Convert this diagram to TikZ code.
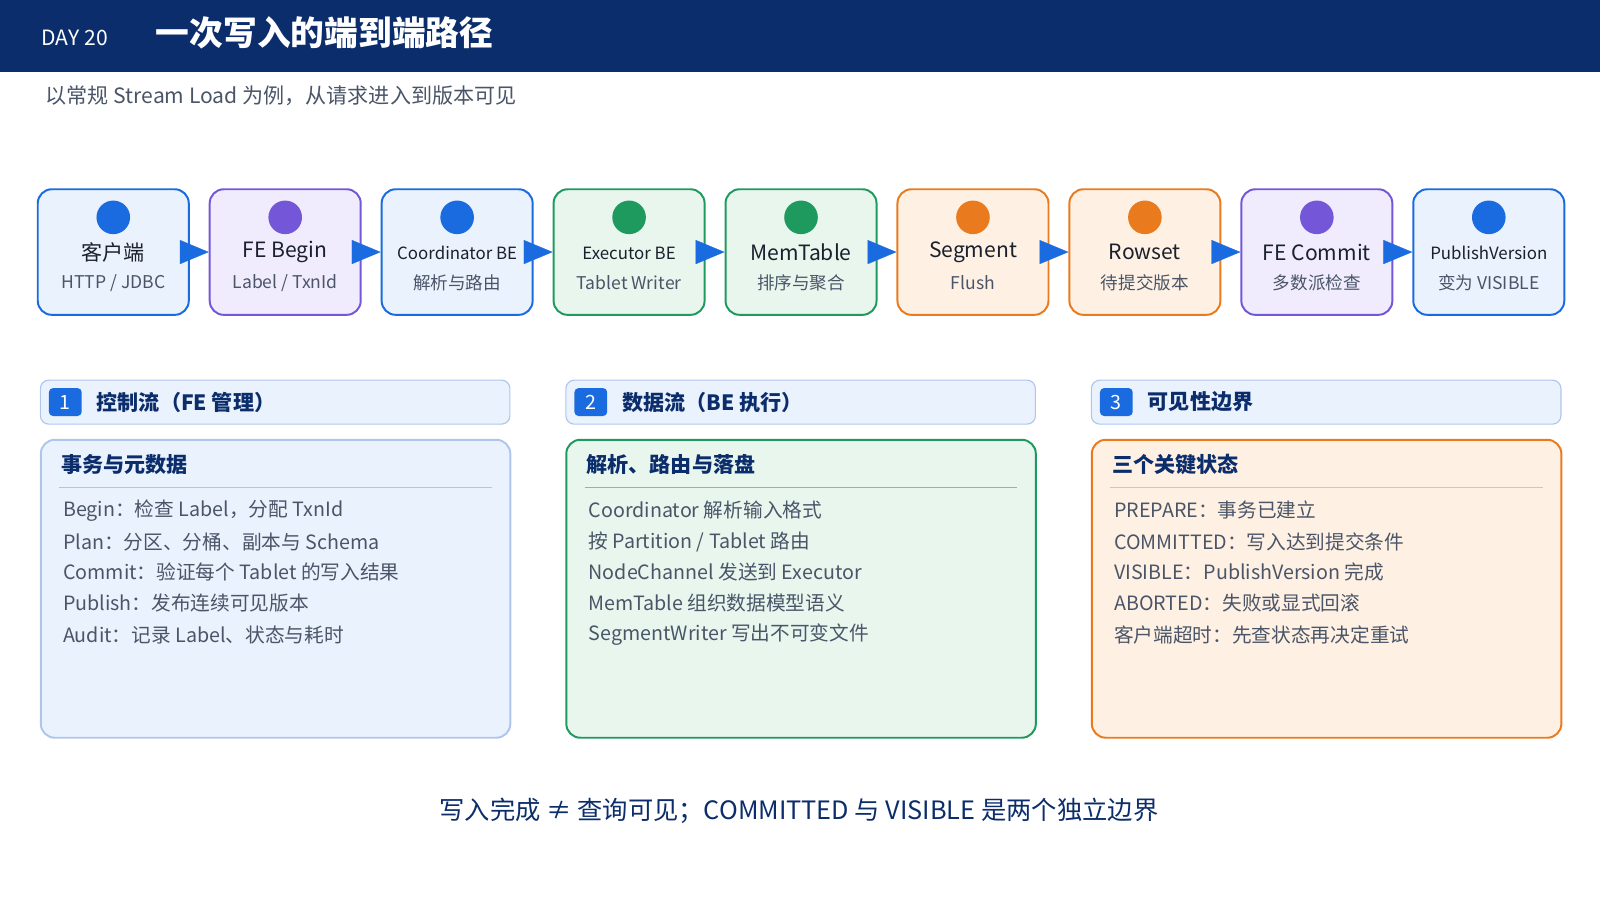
\documentclass[tikz,border=0pt]{standalone}
\usepackage{fontspec}
\setmainfont{Noto Sans CJK SC}
\usepackage{tikz}
\usetikzlibrary{positioning}
\usetikzlibrary{arrows.meta}
\definecolor{navy}{HTML}{0B2D6B}
\definecolor{greytext}{HTML}{4A5568}
\definecolor{darktext}{HTML}{1A202C}
\definecolor{cblue}{HTML}{1A6BE0}
\definecolor{fblue}{HTML}{EAF2FD}
\definecolor{cpurple}{HTML}{7357D8}
\definecolor{fpurple}{HTML}{F0ECFD}
\definecolor{cgreen}{HTML}{1F9A5F}
\definecolor{fgreen}{HTML}{E8F6EE}
\definecolor{corange}{HTML}{EA7A1E}
\definecolor{forange}{HTML}{FEF1E4}
\definecolor{lblue}{HTML}{AFC6EC}
\tikzset {
  % step box of the pipeline
  step/.style={draw=c#1, fill=f#1, line width=1.4pt, rounded corners=10pt,
    minimum width=3.776cm, minimum height=3.14cm},
  dot/.style={circle, fill=c#1, minimum size=0.84cm, inner sep=0pt},
  stitle/.style={text=darktext, font=\fontsize{15}{16}\selectfont},
  ssmall/.style={text=darktext, font=\fontsize{12}{14}\selectfont},
  ssub/.style={text=greytext, font=\fontsize{12.5}{14}\selectfont},
  flow/.style={-{Triangle[length=0.72cm,width=0.6cm]}, cblue, line width=0.2pt},
  % section headers and panels
  bar/.style={draw=lblue, fill=fblue, line width=0.8pt, rounded corners=6pt,
    minimum width=11.74cm, minimum height=1.1cm, anchor=north west},
  badge/.style={fill=cblue, rounded corners=3pt, minimum width=0.82cm,
    minimum height=0.7cm, text=white, font=\fontsize{14}{16}\selectfont},
  bartext/.style={anchor=west, text=navy, font=\bfseries\fontsize{15}{16}\selectfont},
  panel/.style={rounded corners=10pt, line width=1.4pt,
    minimum width=11.74cm, minimum height=7.45cm, anchor=north west},
  ptitle/.style={anchor=west, text=navy, font=\bfseries\fontsize{15}{16}\selectfont},
  item/.style={anchor=west, text=greytext, font=\fontsize{14}{16}\selectfont},
}
\begin{document}
\begin{tikzpicture}[x=0.02551cm, y=-0.02551cm]
  \useasboundingbox (0,0) rectangle (1568,882);
  % header
  \fill[navy] (0,0) rectangle (1568,71);
  \node[anchor=west, text=white, font=\fontsize{15}{16}\selectfont] (day) at (36,37) {DAY 20};
  \node[anchor=west, text=white, font=\bfseries\fontsize{24}{28}\selectfont] (title) at (148,32) {一次写入的端到端路径};
  \node[anchor=west, text=greytext, font=\fontsize{15}{16}\selectfont] (subtitle) at (40,94) {以常规 Stream Load 为例，从请求进入到版本可见};

  % pipeline
  \node[step=blue] (b1) at (111,247) {};
  \node[step=purple] (b2) at (279.5,247) {};
  \node[step=blue] (b3) at (448,247) {};
  \node[step=green] (b4) at (616.5,247) {};
  \node[step=green] (b5) at (785,247) {};
  \node[step=orange] (b6) at (953.5,247) {};
  \node[step=orange] (b7) at (1122,247) {};
  \node[step=purple] (b8) at (1290.5,247) {};
  \node[step=blue] (b9) at (1459,247) {};

  \node[dot=blue] at (111,213) {};
  \node[dot=purple] at (279.5,213) {};
  \node[dot=blue] at (448,213) {};
  \node[dot=green] at (616.5,213) {};
  \node[dot=green] at (785,213) {};
  \node[dot=orange] at (953.5,213) {};
  \node[dot=orange] at (1122,213) {};
  \node[dot=purple] at (1290.5,213) {};
  \node[dot=blue] at (1459,213) {};

  \node[stitle] at (111,247) {客户端};
  \node[stitle] at (279.5,247) {FE Begin};
  \node[ssmall] at (448,248) {Coordinator BE};
  \node[ssmall] at (616.5,248) {Executor BE};
  \node[stitle] at (785,247) {MemTable};
  \node[stitle] at (953.5,247) {Segment};
  \node[stitle] at (1122,247) {Rowset};
  \node[stitle] at (1290.5,247) {FE Commit};
  \node[ssmall] at (1459,248) {PublishVersion};

  \node[ssub] at (111,277) {HTTP / JDBC};
  \node[ssub] at (279.5,277) {Label / TxnId};
  \node[ssub] at (448,277) {解析与路由};
  \node[ssub] at (616.5,277) {Tablet Writer};
  \node[ssub] at (785,277) {排序与聚合};
  \node[ssub] at (953.5,277) {Flush};
  \node[ssub] at (1122,277) {待提交版本};
  \node[ssub] at (1290.5,277) {多数派检查};
  \node[ssub] at (1459,277) {变为 VISIBLE};

  \draw[flow] ([xshift=-0.2cm]b1.east) -- (b2.west);
  \draw[flow] ([xshift=-0.2cm]b2.east) -- (b3.west);
  \draw[flow] ([xshift=-0.2cm]b3.east) -- (b4.west);
  \draw[flow] ([xshift=-0.2cm]b4.east) -- (b5.west);
  \draw[flow] ([xshift=-0.2cm]b5.east) -- (b6.west);
  \draw[flow] ([xshift=-0.2cm]b6.east) -- (b7.west);
  \draw[flow] ([xshift=-0.2cm]b7.east) -- (b8.west);
  \draw[flow] ([xshift=-0.2cm]b8.east) -- (b9.west);

  % section bars
  \node[bar] (bar1) at (39,372) {};
  \node[bar] (bar2) at (554,372) {};
  \node[bar] (bar3) at (1069,372) {};
  \node[badge] (n1) at (64,394) {1};
  \node[badge] (n2) at (579,394) {2};
  \node[badge] (n3) at (1094,394) {3};
  \node[bartext] at (90,394) {控制流（FE 管理）};
  \node[bartext] at (605,394) {数据流（BE 执行）};
  \node[bartext] at (1120,394) {可见性边界};

  % panels
  \node[panel, draw=lblue, fill=fblue] (p1) at (39,430) {};
  \node[panel, draw=cgreen, fill=fgreen] (p2) at (554,430) {};
  \node[panel, draw=corange, fill=forange] (p3) at (1069,430) {};
  \draw[lblue, line width=1pt] (58,478) -- (482,478);
  \draw[cgreen!60, line width=1pt] (573,478) -- (997,478);
  \draw[corange!50, line width=1pt] (1088,478) -- (1512,478);

  \node[ptitle] at (55,455) {事务与元数据};
  \node[item] at (57,500) {Begin：检查 Label，分配 TxnId};
  \node[item] at (57,531) {Plan：分区、分桶、副本与 Schema};
  \node[item] at (57,561) {Commit：验证每个 Tablet 的写入结果};
  \node[item] at (57,591) {Publish：发布连续可见版本};
  \node[item] at (57,622) {Audit：记录 Label、状态与耗时};

  \node[ptitle] at (570,455) {解析、路由与落盘};
  \node[item] at (572,500) {Coordinator 解析输入格式};
  \node[item] at (572,531) {按 Partition / Tablet 路由};
  \node[item] at (572,561) {NodeChannel 发送到 Executor};
  \node[item] at (572,591) {MemTable 组织数据模型语义};
  \node[item] at (572,622) {SegmentWriter 写出不可变文件};

  \node[ptitle] at (1085,455) {三个关键状态};
  \node[item] at (1087,500) {PREPARE：事务已建立};
  \node[item] at (1087,531) {COMMITTED：写入达到提交条件};
  \node[item] at (1087,561) {VISIBLE：PublishVersion 完成};
  \node[item] at (1087,591) {ABORTED：失败或显式回滚};
  \node[item] at (1087,622) {客户端超时：先查状态再决定重试};

  % footer
  \node[text=navy, font=\fontsize{18}{20}\selectfont] (note) at (783,795) {写入完成 ≠ 查询可见；COMMITTED 与 VISIBLE 是两个独立边界};
\end{tikzpicture}
\end{document}
